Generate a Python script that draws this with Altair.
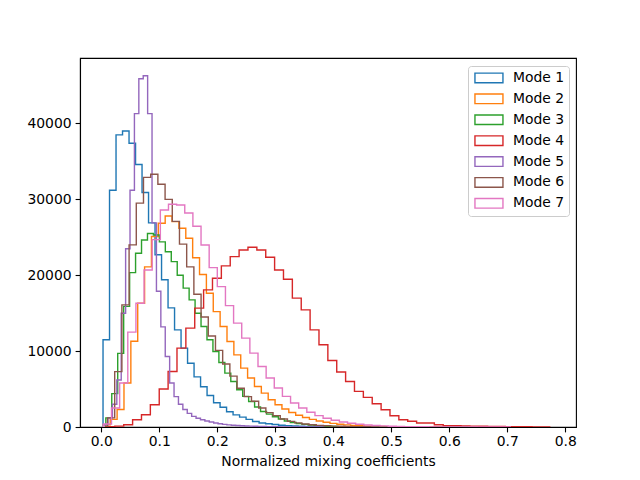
import altair as alt
import pandas as pd

modes = ["Mode 1", "Mode 2", "Mode 3", "Mode 4", "Mode 5", "Mode 6", "Mode 7"]
colors = ["#1f77b4", "#ff7f0e", "#2ca02c", "#d62728", "#9467bd", "#8c564b", "#e377c2"]

# first bin edge and bin width of each mode's histogram (50 bins each)
bin_start = [0.0030, 0.0036, 0.0078, 0.0081, 0.0040, 0.0107, 0.0036]
bin_width = [0.01121, 0.01184, 0.01026, 0.0153, 0.00759, 0.01241, 0.01403]

counts_mode1 = [11500, 31200, 38500, 39000, 37400, 34600, 30900, 26900, 22700, 19400,
                15700, 12800, 10400, 8400, 6600, 5300, 4150, 3200, 2600, 2000,
                1600, 1300, 1000, 720, 530, 420, 320, 240, 180, 130,
                100, 75, 55, 40, 30, 22, 16, 12, 9, 7,
                5, 4, 3, 2, 2, 1, 1, 1, 0, 1]
counts_mode2 = [300, 1000, 2300, 5800, 11300, 16300, 21100, 25100, 26850, 27800,
                27060, 26190, 24870, 22300, 20100, 17630, 15210, 13240, 11270, 9510,
                7760, 6450, 5340, 4470, 3590, 2930, 2370, 1920, 1550, 1250,
                1000, 800, 620, 480, 370, 280, 210, 160, 120, 90,
                65, 48, 35, 25, 18, 13, 9, 6, 4, 3]
counts_mode3 = [1200, 4400, 9700, 15900, 20350, 22900, 24650, 25500, 25300, 24400,
                23100, 21800, 20000, 18300, 16750, 15000, 13240, 11500, 9950, 8500,
                7100, 6000, 4900, 4030, 3370, 2630, 2050, 1700, 1350, 1050,
                800, 600, 450, 340, 250, 180, 130, 95, 70, 50,
                35, 25, 18, 12, 9, 6, 4, 3, 2, 1]
counts_mode4 = [40, 120, 300, 960, 1620, 2930, 5000, 7320, 10400, 13030,
                15660, 18070, 19610, 21230, 22450, 23330, 23690, 23330, 22370, 20700,
                19480, 16980, 15440, 12800, 10830, 8760, 7240, 6000, 4690, 3900,
                3070, 2280, 1490, 960, 750, 530, 530, 300, 170, 170,
                140, 120, 100, 80, 60, 50, 40, 30, 20, 10]
counts_mode5 = [300, 1200, 3000, 6200, 15000, 23500, 31200, 41300, 45900, 46300,
                41300, 26900, 17900, 13200, 9300, 5800, 4000, 3000, 2300, 1800,
                1400, 1150, 950, 800, 650, 530, 430, 350, 280, 230,
                200, 170, 140, 120, 100, 80, 65, 50, 40, 30,
                22, 16, 12, 9, 6, 4, 3, 2, 1, 1]
counts_mode6 = [1200, 7300, 16100, 24000, 29500, 32900, 33300, 32000, 30000, 27100,
                24100, 21100, 17500, 14500, 12000, 10100, 8300, 6700, 5100, 4000,
                3400, 2500, 1900, 1500, 1050, 740, 550, 400, 300, 220,
                165, 120, 90, 65, 48, 35, 25, 18, 13, 9,
                7, 5, 4, 3, 2, 2, 1, 1, 0, 1]
counts_mode7 = [400, 2500, 5800, 12500, 16300, 20700, 24700, 28600, 29350, 29260,
                28200, 26450, 23990, 21000, 18500, 16000, 13690, 11710, 9740, 7980,
                6450, 5130, 4030, 3160, 2500, 1950, 1500, 1150, 880, 660,
                500, 370, 270, 200, 145, 105, 75, 55, 40, 28,
                20, 14, 10, 7, 5, 3, 2, 2, 1, 1]

all_counts = [counts_mode1, counts_mode2, counts_mode3, counts_mode4,
              counts_mode5, counts_mode6, counts_mode7]

x_ticks = [0.0, 0.1, 0.2, 0.3, 0.4, 0.5, 0.6, 0.7, 0.8]
y_ticks = [0, 10000, 20000, 30000, 40000]

rows = []
for name, s, w, cs in zip(modes, bin_start, bin_width, all_counts):
    rows.append({"mode": name, "x": s, "y": 0, "i": 0})
    for k, c in enumerate(cs):
        rows.append({"mode": name, "x": s + k * w, "y": c, "i": k + 1})
    rows.append({"mode": name, "x": s + len(cs) * w, "y": 0, "i": len(cs) + 1})
df = pd.DataFrame(rows)

FONT = "DejaVu Sans"
FS = 13.9

legend = alt.Legend(
    title=None, orient="none", legendX=388, legendY=8,
    symbolType="M-1,-0.96L4.6,-0.96L4.6,0.96L-1,0.96Z",
    symbolSize=100, symbolStrokeWidth=1.4, symbolFillColor="white",
    labelFont=FONT, labelFontSize=FS, labelColor="black", labelOffset=26,
    rowPadding=4.9, padding=5, fillColor="white", strokeColor="#cccccc",
    cornerRadius=3,
)

chart = alt.Chart(df).mark_line(interpolate="step-after", strokeWidth=1.4, clip=True).encode(
    x=alt.X("x:Q",
            scale=alt.Scale(domain=[-0.0367, 0.8184], nice=False, zero=False),
            axis=alt.Axis(values=x_ticks, format=".1f", title="Normalized mixing coefficients",
                          grid=False, tickSize=4.9, labelPadding=3, titlePadding=6)),
    y=alt.Y("y:Q",
            scale=alt.Scale(domain=[0, 48630], nice=False),
            axis=alt.Axis(values=y_ticks, format="d", title=None, grid=False,
                          tickSize=4.9, labelPadding=4)),
    color=alt.Color("mode:N", scale=alt.Scale(domain=modes, range=colors), legend=legend),
    order=alt.Order("i:Q"),
).properties(
    width=496, height=369,
    autosize=alt.AutoSizeParams(type="none"),
    padding={"left": 80, "top": 58, "right": 64, "bottom": 53},
    background="white",
).configure_view(
    stroke="black", strokeWidth=1.1
).configure_axis(
    domainColor="black", domainWidth=1.1, tickColor="black", tickWidth=1.1,
    labelColor="black", titleColor="black", labelFont=FONT, titleFont=FONT,
    labelFontSize=FS, titleFontSize=FS, titleFontWeight="normal",
)

chart.save("out.html", embed_options={"renderer": "svg", "actions": False})
